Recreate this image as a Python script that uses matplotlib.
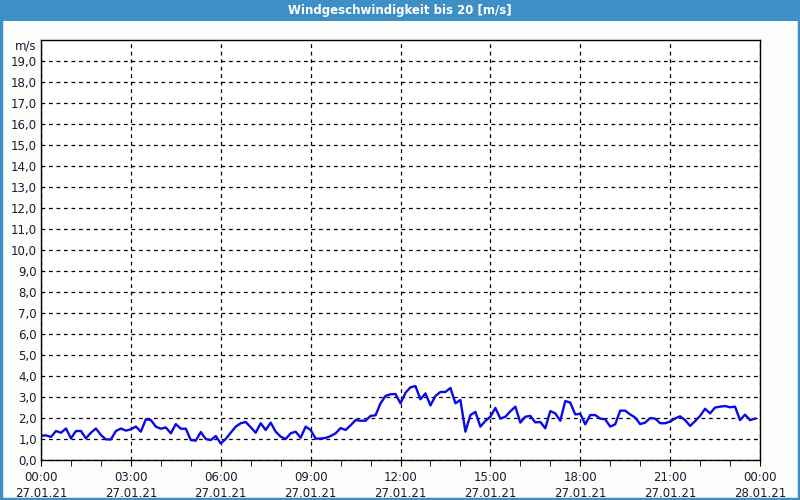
import matplotlib
matplotlib.use("Agg")
import matplotlib.pyplot as plt
import matplotlib.dates as mdates
from matplotlib.patches import Rectangle
from datetime import datetime, timedelta

# Messwerte alle 10 Minuten, 27.01.21 00:00 - 23:50
speed = [
    1.16, 1.17, 1.10, 1.38, 1.30, 1.50, 1.03, 1.38, 1.38, 1.03,
    1.30, 1.50, 1.19, 0.98, 0.98, 1.38, 1.50, 1.40, 1.46, 1.59,
    1.35, 1.94, 1.90, 1.59, 1.49,
    1.55, 1.27, 1.71, 1.49, 1.49, 0.95, 0.92, 1.33, 1.00, 0.95,
    1.14, 0.79, 1.00, 1.30, 1.59, 1.75, 1.81, 1.56, 1.30, 1.75,
    1.43, 1.78, 1.35, 1.11,
    1.00, 1.27, 1.35, 1.06, 1.59, 1.43, 1.02, 1.02, 1.05, 1.14,
    1.27, 1.52, 1.43, 1.65, 1.90, 1.87, 1.87, 2.10, 2.13, 2.70,
    3.05, 3.13, 3.14, 2.70,
    3.20, 3.46, 3.52, 2.89, 3.17, 2.60, 3.05, 3.24, 3.24, 3.43,
    2.70, 2.86, 1.35, 2.14, 2.29, 1.59, 1.86, 2.06, 2.48, 1.97,
    2.06, 2.32, 2.54, 1.78,
    2.06, 2.10, 1.79, 1.81, 1.51, 2.33, 2.22, 1.87, 2.81, 2.73,
    2.17, 2.20, 1.70, 2.14, 2.14, 1.97, 1.94, 1.59, 1.70, 2.35,
    2.35, 2.17, 2.02, 1.71,
    1.78, 2.00, 1.97, 1.75, 1.75, 1.83, 1.98, 2.08, 1.90, 1.62,
    1.85, 2.10, 2.44, 2.22, 2.50, 2.54, 2.57, 2.51, 2.54, 1.90,
    2.16, 1.90, 1.97,
]
start = datetime(2021, 1, 27, 0, 0)
times = [start + timedelta(minutes=10 * i) for i in range(len(speed))]

title = "Windgeschwindigkeit bis 20 [m/s]"
unit = "m/s"

fig = plt.figure(figsize=(8, 5), dpi=100, facecolor="#fbfdfb")
ax = fig.add_axes([41 / 800, 40 / 500, 719 / 800, 420 / 500])
ax.set_facecolor("white")

ax.plot(times, speed, color="#0a0ae6", linewidth=1.7)

ax.set_xlim(start, start + timedelta(days=1))
ax.set_ylim(0, 20)

ax.xaxis.set_major_locator(mdates.HourLocator(byhour=range(0, 24, 3)))
ax.xaxis.set_minor_locator(mdates.HourLocator())
ax.xaxis.set_major_formatter(mdates.DateFormatter("%H:%M\n%d.%m.%y"))
ax.set_yticks(range(0, 20))
ax.set_yticklabels([f"{v},0" for v in range(0, 20)])

txt_col = "#1a1a33"
ax.tick_params(axis="x", which="major", length=4, labelsize=8.5, colors="black",
               labelcolor=txt_col, pad=4)
ax.tick_params(axis="x", which="minor", length=4, colors="black")
ax.tick_params(axis="y", length=0, labelsize=8.5, labelcolor=txt_col, pad=3)
for lab in ax.get_xticklabels():
    lab.set_linespacing(1.3)

ax.grid(True, which="major", color="black", linestyle=(0, (3, 3)), linewidth=0.9)
for s in ax.spines.values():
    s.set_color("black")
    s.set_linewidth(1)

ax.text(-0.006, 0.985, unit, transform=ax.transAxes, ha="right", va="center",
        fontsize=8.5, color=txt_col)

# Titelleiste und Rahmen
fig.patches.append(Rectangle((0, 1 - 21 / 500), 1, 21 / 500, transform=fig.transFigure,
                             facecolor="#3d8fc6", edgecolor="none", zorder=0))
fig.patches.append(Rectangle((0.001, 0.002), 0.998, 1 - 0.002, transform=fig.transFigure,
                             facecolor="none", edgecolor="#3d8fc6", linewidth=2.5, zorder=0))
fig.text(0.5, 1 - 10.5 / 500, title, ha="center", va="center", color="white",
         fontsize=8.5, fontweight="bold")

fig.savefig("out.png", dpi=100, facecolor=fig.get_facecolor())
